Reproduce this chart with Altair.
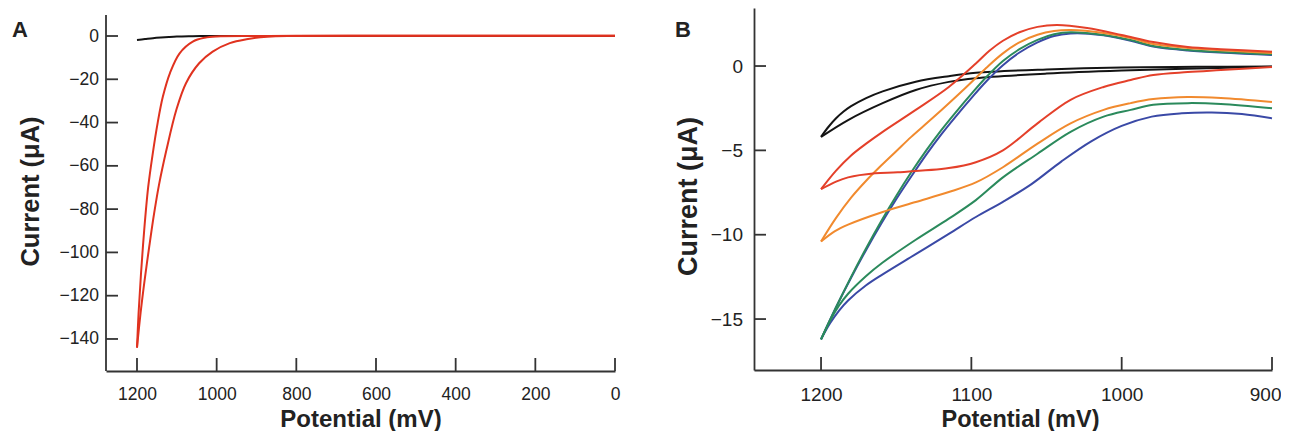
import altair as alt
import pandas as pd

FONT = "Liberation Sans"
AX = "#333333"
TXT = "#222222"

# ---------------- Panel A : wide potential window ----------------
A_xticks = [1200, 1000, 800, 600, 400, 200, 0]
A_yticks = [0, -20, -40, -60, -80, -100, -120, -140]

A_black_pot = [1200, 1180, 1160, 1140, 1120, 1100, 1070, 1040, 1000, 800, 600, 400, 200, 0]
A_black_cur = [-1.8, -1.4, -1.0, -0.7, -0.45, -0.25, -0.1, -0.03, 0, 0, 0, 0, 0, 0]

A_red1_pot = [1200, 1196, 1190, 1182, 1172, 1161, 1148, 1135, 1117, 1093, 1060, 1030, 1000, 900, 800, 600, 400, 200, 0]
A_red1_cur = [-144, -128, -110, -90, -70, -55, -40, -28, -17, -8, -2.6, -0.8, -0.2, 0, 0.1, 0.1, 0.1, 0.1, 0.1]
A_red2_pot = [1200, 1191, 1181, 1169, 1157, 1145, 1126, 1101, 1077, 1044, 1010, 967, 925, 873, 800, 600, 400, 200, 0]
A_red2_cur = [-144, -128, -113, -97, -82, -69, -52.6, -34, -21.8, -12.6, -7.2, -3.3, -1.5, -0.3, 0, 0.1, 0.1, 0.1, 0.1]

# ---------------- Panel B : narrow potential window ----------------
B_xticks = [1200, 1100, 1000, 900]
B_yticks = [0, -5, -10, -15]

B_black1_pot = [1200, 1195, 1190, 1185, 1180, 1170, 1159, 1137, 1115, 1097, 1050, 1000, 950, 900]
B_black1_cur = [-4.2, -3.6, -3.1, -2.7, -2.38, -1.9, -1.5, -0.93, -0.6, -0.4, -0.2, -0.08, -0.05, -0.03]
B_black2_pot = [1200, 1182, 1159, 1137, 1115, 1097, 1050, 1000, 950, 900]
B_black2_cur = [-4.2, -3.2, -2.2, -1.42, -0.94, -0.72, -0.45, -0.27, -0.15, -0.05]

B_red1_pot = [1200, 1190, 1180, 1170, 1159, 1137, 1115, 1097, 1088, 1079, 1068, 1056, 1043, 1023, 1000, 979, 956, 934, 900]
B_red1_cur = [-7.3, -6.2, -5.3, -4.6, -3.9, -2.6, -1.24, 0.15, 0.9, 1.5, 2.0, 2.32, 2.43, 2.25, 1.84, 1.42, 1.13, 1.0, 0.85]
B_red2_pot = [1200, 1190, 1182, 1164, 1149, 1115, 1097, 1079, 1056, 1034, 1012, 994, 979, 956, 934, 900]
B_red2_cur = [-7.3, -6.85, -6.6, -6.36, -6.3, -6.05, -5.7, -5.0, -3.4, -2.0, -1.24, -0.83, -0.53, -0.36, -0.24, -0.06]

B_orange1_pot = [1200, 1190, 1180, 1170, 1160, 1150, 1140, 1126, 1104, 1090, 1079, 1068, 1056, 1045, 1034, 1012, 994, 979, 956, 900]
B_orange1_cur = [-10.4, -9.0, -7.8, -6.8, -5.9, -5.05, -4.2, -3.1, -1.3, -0.1, 0.75, 1.4, 1.85, 2.07, 2.13, 1.96, 1.66, 1.3, 1.07, 0.77]
B_orange2_pot = [1200, 1191, 1182, 1159, 1137, 1115, 1097, 1079, 1056, 1034, 1012, 994, 979, 956, 934, 900]
B_orange2_cur = [-10.4, -9.8, -9.4, -8.65, -8.06, -7.47, -6.9, -6.0, -4.6, -3.4, -2.6, -2.2, -1.96, -1.84, -1.9, -2.13]

B_blue1_pot = [1200, 1190, 1180, 1170, 1160, 1150, 1140, 1130, 1120, 1110, 1100, 1090, 1079, 1068, 1056, 1045, 1034, 1022, 1012, 994, 979, 956, 900]
B_blue1_cur = [-16.2, -14.3, -12.55, -10.9, -9.35, -7.9, -6.55, -5.25, -4.05, -2.95, -1.9, -0.9, 0.05, 0.8, 1.4, 1.78, 1.93, 1.92, 1.82, 1.5, 1.15, 0.92, 0.66]
B_blue2_pot = [1200, 1194, 1188, 1182, 1170, 1159, 1137, 1115, 1097, 1079, 1060, 1040, 1020, 1000, 980, 960, 940, 920, 900]
B_blue2_cur = [-16.2, -15.25, -14.5, -13.9, -13.0, -12.35, -11.15, -9.95, -8.95, -8.05, -7.0, -5.65, -4.45, -3.55, -3.0, -2.8, -2.75, -2.85, -3.1]

B_green1_pot = [1200, 1190, 1180, 1170, 1160, 1150, 1140, 1130, 1120, 1110, 1100, 1090, 1079, 1068, 1056, 1045, 1034, 1012, 994, 979, 956, 900]
B_green1_cur = [-16.2, -14.3, -12.5, -10.8, -9.2, -7.7, -6.3, -5.0, -3.8, -2.7, -1.65, -0.65, 0.3, 1.0, 1.55, 1.88, 2.0, 1.84, 1.54, 1.19, 0.95, 0.7]
B_green2_pot = [1200, 1194, 1188, 1182, 1170, 1159, 1137, 1115, 1097, 1079, 1056, 1034, 1012, 994, 979, 956, 934, 900]
B_green2_cur = [-16.2, -15.1, -14.2, -13.5, -12.45, -11.65, -10.3, -9.05, -7.95, -6.6, -5.2, -3.9, -3.0, -2.6, -2.3, -2.2, -2.25, -2.5]

COL = {"black": "#141414", "red": "#e4402a", "orange": "#f18a2e",
       "green": "#2b8a5c", "blue": "#3a49a6", "redA": "#e0321f"}


def frame(branches):
    rows = []
    for name, pots, curs in branches:
        for i, (p, c) in enumerate(zip(pots, curs)):
            rows.append({"branch": name, "idx": i, "potential": p, "current": c})
    return pd.DataFrame(rows)


# ---------------- geometry ----------------
WA, HA = 509, 363
WB, HB = 518, 362
xA_scale = alt.Scale(domain=[0, 1277.8], reverse=True, nice=False, zero=False)
yA_scale = alt.Scale(domain=[-154.8, 12.94], nice=False, zero=False)
xB_scale = alt.Scale(domain=[900, 1244.6], reverse=True, nice=False, zero=False)
yB_scale = alt.Scale(domain=[-18.02, 3.44], nice=False, zero=False)


def panel(series, xs, ys, xticks, yticks, W, H, xaxis, yaxis, label, label_dx, label_y, draw_yline=None):
    layers = []
    for color, branches in series:
        layers.append(alt.Chart(frame(branches)).mark_line(
            strokeWidth=2, interpolate="catmull-rom", color=color).encode(
            x=alt.X("potential:Q", scale=xs, axis=xaxis),
            y=alt.Y("current:Q", scale=ys, axis=yaxis),
            detail="branch:N",
            order="idx:Q",
        ))
    # inward tick marks
    layers.append(alt.Chart(pd.DataFrame({"potential": xticks})).mark_rule(color=AX, strokeWidth=1.8).encode(
        x=alt.X("potential:Q", scale=xs, axis=xaxis), y=alt.value(H), y2=alt.value(H - 13)))
    layers.append(alt.Chart(pd.DataFrame({"current": yticks})).mark_rule(color=AX, strokeWidth=1.8).encode(
        y=alt.Y("current:Q", scale=ys, axis=yaxis), x=alt.value(0), x2=alt.value(12)))
    if draw_yline is not None:
        layers.append(alt.Chart(pd.DataFrame({"current": [draw_yline[0]], "c2": [draw_yline[1]]})).mark_rule(
            color=AX, strokeWidth=1.8).encode(
            x=alt.value(0), y=alt.Y("current:Q", scale=ys, axis=yaxis), y2="c2:Q"))
    layers.append(alt.Chart(pd.DataFrame({"t": [label]})).mark_text(
        align="left", baseline="alphabetic", fontSize=22, fontWeight="bold", font=FONT, color=TXT
    ).encode(text="t:N", x=alt.value(label_dx), y=alt.value(label_y)))
    return alt.layer(*layers).properties(width=W, height=H)


axA_x = alt.Axis(values=A_xticks, format="d", title="Potential (mV)", labelFontSize=17.5, labelPadding=14.7,
                 titleFontSize=24, titleX=254.5, titleY=55, titleBaseline="alphabetic", labelFlush=False)
axA_y = alt.Axis(values=A_yticks, format="d", title="Current (μA)", domain=False, labelFontSize=17.5,
                 labelPadding=7.5, titleFontSize=25.5, titleX=-68, titleY=183, titleBaseline="alphabetic",
                 titleAngle=270)
axB_x = alt.Axis(values=B_xticks, format="d", title="Potential (mV)", labelFontSize=19, labelPadding=15.5,
                 titleFontSize=23.5, titleX=266, titleY=56, titleBaseline="alphabetic",
                 labelFlush=1, labelFlushOffset=9)
axB_y = alt.Axis(values=B_yticks, format="d", title="Current (μA)", labelFontSize=19, labelPadding=11.5,
                 titleFontSize=27, titleX=-58, titleY=188, titleBaseline="alphabetic", titleAngle=270)

seriesA = [
    (COL["black"], [("k", A_black_pot, A_black_cur)]),
    (COL["redA"], [("r1", A_red1_pot, A_red1_cur), ("r2", A_red2_pot, A_red2_cur)]),
]
seriesB = [
    (COL["black"], [("k1", B_black1_pot, B_black1_cur), ("k2", B_black2_pot, B_black2_cur)]),
    (COL["blue"], [("b1", B_blue1_pot, B_blue1_cur), ("b2", B_blue2_pot, B_blue2_cur)]),
    (COL["green"], [("g1", B_green1_pot, B_green1_cur), ("g2", B_green2_pot, B_green2_cur)]),
    (COL["orange"], [("o1", B_orange1_pot, B_orange1_cur), ("o2", B_orange2_pot, B_orange2_cur)]),
    (COL["red"], [("r1", B_red1_pot, B_red1_cur), ("r2", B_red2_pot, B_red2_cur)]),
]

chartA = panel(seriesA, xA_scale, yA_scale, A_xticks, A_yticks, WA, HA, axA_x, axA_y, "A", -94, 29,
               draw_yline=(9.7, -154.8))
chartB = panel(seriesB, xB_scale, yB_scale, B_xticks, B_yticks, WB, HB, axB_x, axB_y, "B", -79, 29)

chart = alt.hconcat(chartA, chartB, spacing=139, bounds="flush").properties(
    padding={"left": 4, "top": 0, "right": 0, "bottom": 0}, background="white"
).configure_view(stroke="transparent", strokeWidth=0).configure_axis(
    labelFont=FONT, titleFont=FONT, titleFontWeight="bold", grid=False, ticks=False, tickSize=0,
    domainColor=AX, domainWidth=1.8, labelColor=TXT, titleColor=TXT, labelOverlap=False
)

chart.save("out.html", embed_options={"renderer": "svg", "actions": False})
